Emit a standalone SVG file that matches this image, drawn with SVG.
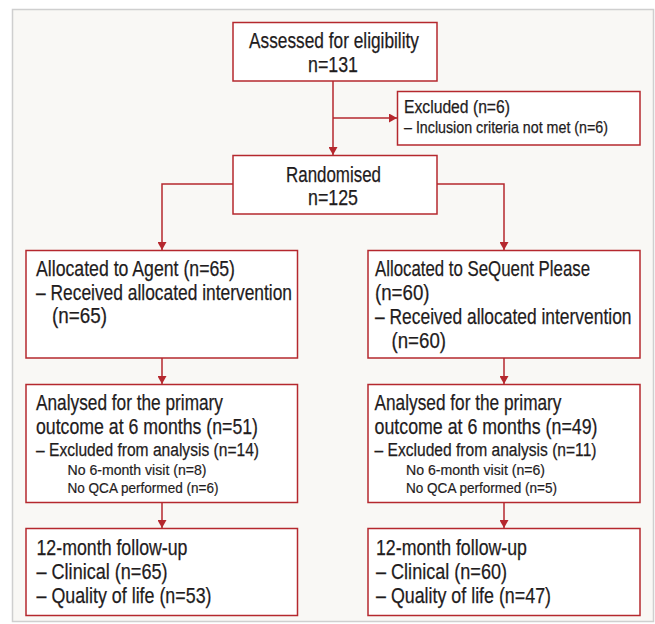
<svg xmlns="http://www.w3.org/2000/svg" width="655" height="624" viewBox="0 0 655 624">
<style>
.bg{fill:#f9f8f5;stroke:#cfcfcf;stroke-width:1.5}
.box{fill:#ffffff;stroke:#b5282e;stroke-width:1.5}
.ln{fill:none;stroke:#b5282e;stroke-width:1.5}
text{font-family:"Liberation Sans",Arial,sans-serif;fill:#1f1c1d;stroke:#1f1c1d;stroke-width:0.25}
.m{font-size:22px}
.s{font-size:18px}
.i{font-size:17px}
.xs{font-size:14.5px;stroke-width:0.2}
.c{text-anchor:middle}
</style>
<defs>
<marker id="ah" viewBox="0 0 8 9" refX="8" refY="4.5" markerWidth="8" markerHeight="9" orient="auto" markerUnits="userSpaceOnUse">
<path d="M0,0 L8,4.5 L0,9 z" fill="#b5282e"/>
</marker>
</defs>
<rect class="bg" x="12.5" y="9.5" width="641" height="612"/>
<g id="connectors">
<path class="ln" d="M333,81 V155" marker-end="url(#ah)"/>
<path class="ln" d="M333,118 H397" marker-end="url(#ah)"/>
<path class="ln" d="M233,184 H162 V250" marker-end="url(#ah)"/>
<path class="ln" d="M437,184 H504 V250" marker-end="url(#ah)"/>
<path class="ln" d="M162,358 V384" marker-end="url(#ah)"/>
<path class="ln" d="M504,358 V384" marker-end="url(#ah)"/>
<path class="ln" d="M162,502 V528" marker-end="url(#ah)"/>
<path class="ln" d="M504,502 V528" marker-end="url(#ah)"/>
</g>
<g id="assessed">
<rect class="box" x="233" y="22.5" width="204" height="58.5"/>
<text class="m c" x="334" y="48" textLength="170" lengthAdjust="spacingAndGlyphs">Assessed for eligibility</text>
<text class="m c" x="333" y="72" textLength="50" lengthAdjust="spacingAndGlyphs">n=131</text>
</g>
<g id="excluded">
<rect class="box" x="397.5" y="91.5" width="242.5" height="53.5"/>
<text class="s" x="404" y="112.7" textLength="106" lengthAdjust="spacingAndGlyphs">Excluded (n=6)</text>
<text class="i" x="404" y="133.3" textLength="204" lengthAdjust="spacingAndGlyphs">– Inclusion criteria not met (n=6)</text>
</g>
<g id="randomised">
<rect class="box" x="233" y="155.5" width="204" height="58.5"/>
<text class="m c" x="333.5" y="182" textLength="95" lengthAdjust="spacingAndGlyphs">Randomised</text>
<text class="m c" x="333" y="205" textLength="50" lengthAdjust="spacingAndGlyphs">n=125</text>
</g>
<g id="agent">
<rect class="box" x="26" y="250.5" width="271.5" height="107.5"/>
<text class="m" x="36" y="276" textLength="199" lengthAdjust="spacingAndGlyphs">Allocated to Agent (n=65)</text>
<text class="m" x="36" y="299.5" textLength="256" lengthAdjust="spacingAndGlyphs">– Received allocated intervention</text>
<text class="m" x="52" y="323" textLength="55" lengthAdjust="spacingAndGlyphs">(n=65)</text>
</g>
<g id="sequent">
<rect class="box" x="368" y="250.5" width="272" height="107.5"/>
<text class="m" x="375" y="276" textLength="215" lengthAdjust="spacingAndGlyphs">Allocated to SeQuent Please</text>
<text class="m" x="375" y="300" textLength="54.5" lengthAdjust="spacingAndGlyphs">(n=60)</text>
<text class="m" x="375" y="324" textLength="256.5" lengthAdjust="spacingAndGlyphs">– Received allocated intervention</text>
<text class="m" x="391.5" y="348" textLength="54.5" lengthAdjust="spacingAndGlyphs">(n=60)</text>
</g>
<g id="analysed-agent">
<rect class="box" x="26" y="384.5" width="271.5" height="118"/>
<text class="m" x="36" y="410" textLength="187" lengthAdjust="spacingAndGlyphs">Analysed for the primary</text>
<text class="m" x="36" y="433.5" textLength="222" lengthAdjust="spacingAndGlyphs">outcome at 6 months (n=51)</text>
<text class="s" x="36" y="456" textLength="223" lengthAdjust="spacingAndGlyphs">– Excluded from analysis (n=14)</text>
<text class="xs" x="67.5" y="474.5" textLength="139" lengthAdjust="spacingAndGlyphs">No 6-month visit (n=8)</text>
<text class="xs" x="67.5" y="493" textLength="151" lengthAdjust="spacingAndGlyphs">No QCA performed (n=6)</text>
</g>
<g id="analysed-sequent">
<rect class="box" x="368" y="384.5" width="272" height="118"/>
<text class="m" x="374.5" y="410" textLength="187" lengthAdjust="spacingAndGlyphs">Analysed for the primary</text>
<text class="m" x="374.5" y="433.5" textLength="223" lengthAdjust="spacingAndGlyphs">outcome at 6 months (n=49)</text>
<text class="s" x="374.5" y="456" textLength="222" lengthAdjust="spacingAndGlyphs">– Excluded from analysis (n=11)</text>
<text class="xs" x="406" y="474.5" textLength="139" lengthAdjust="spacingAndGlyphs">No 6-month visit (n=6)</text>
<text class="xs" x="406" y="493" textLength="151" lengthAdjust="spacingAndGlyphs">No QCA performed (n=5)</text>
</g>
<g id="followup-agent">
<rect class="box" x="26" y="528.5" width="271.5" height="87"/>
<text class="m" x="36.5" y="555" textLength="151" lengthAdjust="spacingAndGlyphs">12-month follow-up</text>
<text class="m" x="36.5" y="579" textLength="131" lengthAdjust="spacingAndGlyphs">– Clinical (n=65)</text>
<text class="m" x="36.5" y="603" textLength="175" lengthAdjust="spacingAndGlyphs">– Quality of life (n=53)</text>
</g>
<g id="followup-sequent">
<rect class="box" x="368" y="528.5" width="272" height="87"/>
<text class="m" x="376" y="555" textLength="151" lengthAdjust="spacingAndGlyphs">12-month follow-up</text>
<text class="m" x="376" y="579" textLength="131" lengthAdjust="spacingAndGlyphs">– Clinical (n=60)</text>
<text class="m" x="376" y="603" textLength="175" lengthAdjust="spacingAndGlyphs">– Quality of life (n=47)</text>
</g>
</svg>
